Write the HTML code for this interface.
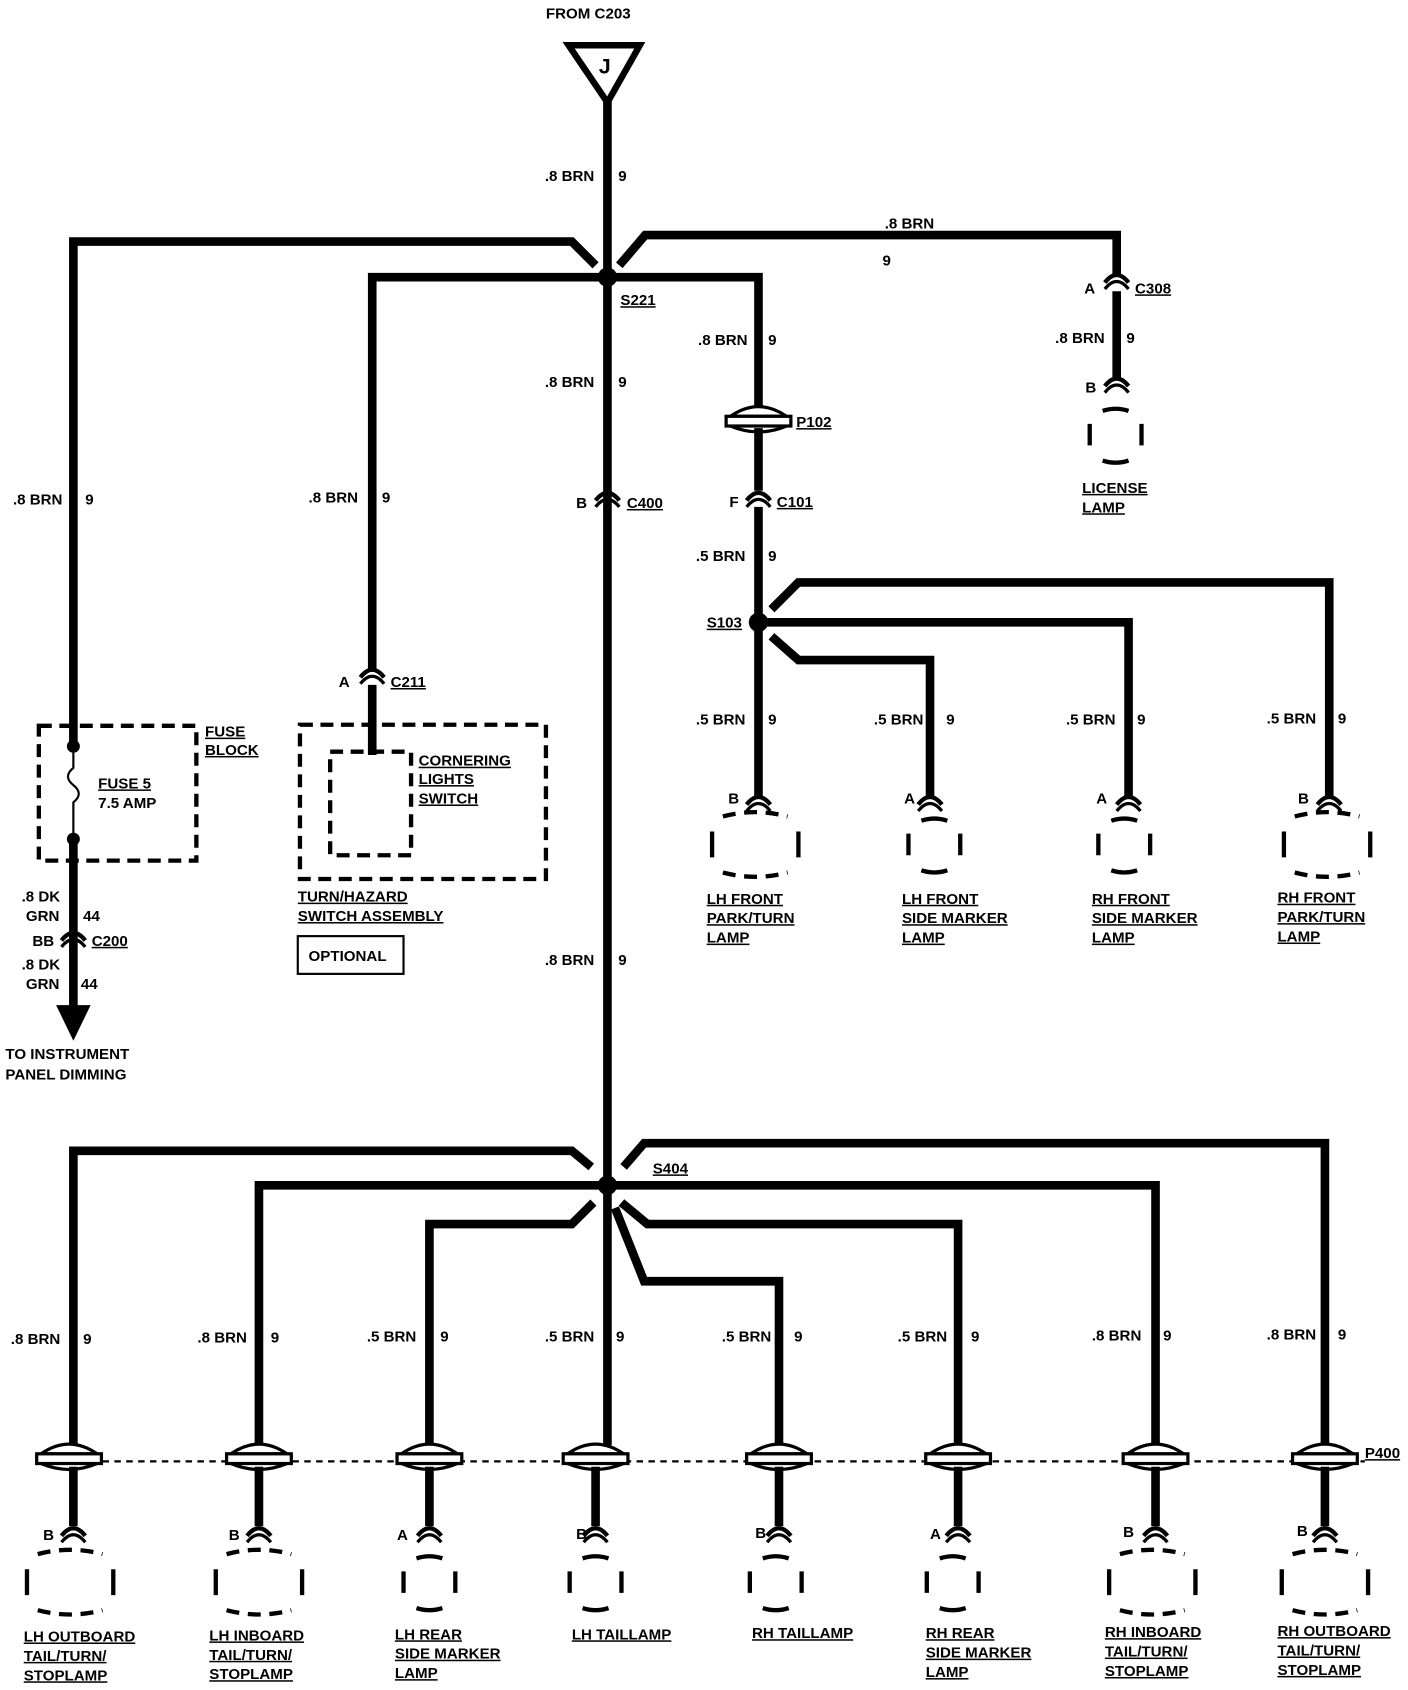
<!DOCTYPE html>
<html><head><meta charset="utf-8"><style>
html,body{margin:0;padding:0;background:#fff;}
svg{display:block}
text{font-family:"Liberation Sans",sans-serif;font-weight:bold;font-size:14px;fill:#000}
.u{text-decoration:underline}
</style></head><body>
<svg width="1408" height="1690" viewBox="0 0 1305 1567" preserveAspectRatio="none" xmlns="http://www.w3.org/2000/svg">
<defs>
<g id="cup"><path d="M-11,6 Q0,-8 11,6" fill="none" stroke="#000" stroke-width="4"/><path d="M-11,12 Q0,-2 11,12" fill="none" stroke="#000" stroke-width="3"/></g>
<g id="pc"><path d="M-26,-4 Q0,-22 26,-4 Z" fill="#fff" stroke="#000" stroke-width="3"/><rect x="-30" y="-4" width="60" height="9" fill="#fff" stroke="#000" stroke-width="3"/><path d="M-26,5 Q0,16 26,5" fill="none" stroke="#000" stroke-width="3"/></g>
<g id="lampW"><path d="M-30,-26 Q0,-34 30,-26" fill="none" stroke="#000" stroke-width="4" stroke-dasharray="12,8"/><path d="M-40,-12 L-40,12 M40,-12 L40,12" stroke="#000" stroke-width="4"/><path d="M-30,26 Q0,34 30,26" fill="none" stroke="#000" stroke-width="4" stroke-dasharray="12,8"/></g>
<g id="lampN"><path d="M-12,-22 Q0,-26 12,-22" fill="none" stroke="#000" stroke-width="4"/><path d="M-24,-10 L-24,10 M24,-10 L24,10" stroke="#000" stroke-width="4"/><path d="M-12,24 Q0,28 12,24" fill="none" stroke="#000" stroke-width="4"/></g>
</defs>
<g fill="none" stroke="#000" stroke-width="8" stroke-linejoin="miter">
<path d="M563,80 L563,1099"/>
<path d="M68,675 L68,224 L530,224 L552,246"/>
<path d="M574,246 L598,218 L1035,218 L1035,255"/>
<path d="M1035,270 L1035,350"/>
<path d="M345,620 L345,257 L563,257"/>
<path d="M563,257 L703,257 L703,377"/>
<path d="M703,397 L703,455"/>
<path d="M703,470 L703,577 L703,738"/>
<path d="M715,565 L740,540 L1232,540 L1232,738"/>
<path d="M703,577 L1046,577 L1046,738"/>
<path d="M715,590 L740,612 L862,612 L862,738"/>
<path d="M345,635 L345,700"/>
<path d="M548,1082 L530,1067 L68,1067 L68,1340"/>
<path d="M578,1082 L597,1060 L1228,1060 L1228,1340"/>
<path d="M563,1099 L240,1099 L240,1340"/>
<path d="M563,1099 L1071,1099 L1071,1340"/>
<path d="M550,1115 L530,1135 L398,1135 L398,1340"/>
<path d="M576,1115 L600,1135 L888,1135 L888,1340"/>
<path d="M570,1120 L597,1188 L722,1188 L722,1340"/>
<path d="M563,1099 L563,1340"/>
<path d="M68,1360 L68,1415 M240,1360 L240,1415 M398,1360 L398,1415 M552,1360 L552,1415 M722,1360 L722,1415 M888,1360 L888,1415 M1071,1360 L1071,1415 M1228,1360 L1228,1415"/>
<path d="M68,798 L68,940"/>
</g>
<path d="M527,42 L593,42 L563,95 Z" fill="#fff" stroke="#000" stroke-width="6"/>
<text x="555" y="68" style="font-size:20px">J</text>
<text x="506" y="17">FROM C203</text>
<circle cx="563" cy="257" r="9"/><circle cx="703" cy="577" r="9"/><circle cx="563" cy="1099" r="9"/>
<path d="M52,932 L84,932 L68,965 Z"/>
<use href="#cup" x="563" y="458"/><use href="#cup" x="703" y="458"/><use href="#cup" x="1035" y="256"/><use href="#cup" x="1035" y="352"/><use href="#cup" x="345" y="622"/><use href="#cup" x="68" y="866"/>
<use href="#pc" x="703" y="390"/>
<line x1="40" y1="1355" x2="1265" y2="1355" stroke="#000" stroke-width="2" stroke-dasharray="6,5"/>
<use href="#pc" x="64" y="1352"/><use href="#pc" x="240" y="1352"/><use href="#pc" x="398" y="1352"/><use href="#pc" x="552" y="1352"/><use href="#pc" x="722" y="1352"/><use href="#pc" x="888" y="1352"/><use href="#pc" x="1071" y="1352"/><use href="#pc" x="1228" y="1352"/>
<text x="1265" y="1352" class="u">P400</text>
<use href="#cup" x="703" y="740"/><use href="#cup" x="862" y="740"/><use href="#cup" x="1046" y="740"/><use href="#cup" x="1232" y="740"/>
<use href="#cup" x="68" y="1418"/><use href="#cup" x="240" y="1418"/><use href="#cup" x="398" y="1418"/><use href="#cup" x="552" y="1418"/><use href="#cup" x="722" y="1418"/><use href="#cup" x="888" y="1418"/><use href="#cup" x="1071" y="1418"/><use href="#cup" x="1228" y="1418"/>
<use href="#lampN" x="1034" y="403"/>
<use href="#lampW" x="700" y="783"/><use href="#lampN" x="866" y="783"/><use href="#lampN" x="1042" y="783"/><use href="#lampW" x="1230" y="783"/>
<use href="#lampW" x="65" y="1467"/><use href="#lampW" x="240" y="1467"/><use href="#lampN" x="398" y="1467"/><use href="#lampN" x="552" y="1467"/><use href="#lampN" x="719" y="1467"/><use href="#lampN" x="883" y="1467"/><use href="#lampW" x="1068" y="1467"/><use href="#lampW" x="1228" y="1467"/>
<rect x="36" y="673" width="146" height="125" fill="none" stroke="#000" stroke-width="4" stroke-dasharray="12,7"/>
<path d="M68,675 L68,690 M68,778 L68,800" stroke="#000" stroke-width="8"/>
<path d="M68,690 L68,712 Q58,720 68,728 Q78,736 68,744 L68,778" fill="none" stroke="#000" stroke-width="2"/>
<circle cx="68" cy="692" r="6"/><circle cx="68" cy="778" r="6"/>
<text x="190" y="683" class="u">FUSE</text><text x="190" y="700" class="u">BLOCK</text>
<text x="91" y="731" class="u">FUSE 5</text><text x="91" y="749">7.5 AMP</text>
<rect x="278" y="672" width="228" height="143" fill="none" stroke="#000" stroke-width="4" stroke-dasharray="12,7"/>
<rect x="306" y="697" width="75" height="96" fill="none" stroke="#000" stroke-width="4" stroke-dasharray="12,7"/>
<text x="388" y="710" class="u">CORNERING</text><text x="388" y="727" class="u">LIGHTS</text><text x="388" y="745" class="u">SWITCH</text>
<text x="276" y="836" class="u">TURN/HAZARD</text><text x="276" y="854" class="u">SWITCH ASSEMBLY</text>
<rect x="276" y="868" width="98" height="35" fill="none" stroke="#000" stroke-width="2"/>
<text x="286" y="891">OPTIONAL</text>
<g>
<text x="505" y="168">.8 BRN</text><text x="573" y="168">9</text>
<text x="820" y="212">.8 BRN</text><text x="818" y="246">9</text>
<text x="575" y="283" class="u">S221</text>
<text x="1005" y="272">A</text><text x="1052" y="272" class="u">C308</text>
<text x="978" y="318">.8 BRN</text><text x="1044" y="318">9</text>
<text x="1006" y="364">B</text>
<text x="1003" y="457" class="u">LICENSE</text><text x="1003" y="475" class="u">LAMP</text>
<text x="647" y="320">.8 BRN</text><text x="712" y="320">9</text>
<text x="738" y="396" class="u">P102</text>
<text x="676" y="470">F</text><text x="720" y="470" class="u">C101</text>
<text x="505" y="359">.8 BRN</text><text x="573" y="359">9</text>
<text x="534" y="471">B</text><text x="581" y="471" class="u">C400</text>
<text x="645" y="520">.5 BRN</text><text x="712" y="520">9</text>
<text x="655" y="582" class="u">S103</text>
<text x="12" y="468">.8 BRN</text><text x="79" y="468">9</text>
<text x="286" y="466">.8 BRN</text><text x="354" y="466">9</text>
<text x="314" y="637">A</text><text x="362" y="637" class="u">C211</text>
<text x="645" y="672">.5 BRN</text><text x="712" y="672">9</text>
<text x="810" y="672">.5 BRN</text><text x="877" y="672">9</text>
<text x="988" y="672">.5 BRN</text><text x="1054" y="672">9</text>
<text x="1174" y="671">.5 BRN</text><text x="1240" y="671">9</text>
<text x="675" y="745">B</text><text x="838" y="745">A</text><text x="1016" y="745">A</text><text x="1203" y="745">B</text>
<text x="655" y="838" class="u">LH FRONT</text><text x="655" y="856" class="u">PARK/TURN</text><text x="655" y="874" class="u">LAMP</text>
<text x="836" y="838" class="u">LH FRONT</text><text x="836" y="856" class="u">SIDE MARKER</text><text x="836" y="874" class="u">LAMP</text>
<text x="1012" y="838" class="u">RH FRONT</text><text x="1012" y="856" class="u">SIDE MARKER</text><text x="1012" y="874" class="u">LAMP</text>
<text x="1184" y="837" class="u">RH FRONT</text><text x="1184" y="855" class="u">PARK/TURN</text><text x="1184" y="873" class="u">LAMP</text>
<text x="20" y="836">.8 DK</text><text x="24" y="854">GRN</text><text x="77" y="854">44</text>
<text x="30" y="877">BB</text><text x="85" y="877" class="u">C200</text>
<text x="20" y="899">.8 DK</text><text x="24" y="917">GRN</text><text x="75" y="917">44</text>
<text x="5" y="982">TO INSTRUMENT</text><text x="5" y="1001">PANEL DIMMING</text>
<text x="505" y="895">.8 BRN</text><text x="573" y="895">9</text>
<text x="605" y="1088" class="u">S404</text>
<text x="10" y="1246">.8 BRN</text><text x="77" y="1246">9</text>
<text x="183" y="1245">.8 BRN</text><text x="251" y="1245">9</text>
<text x="340" y="1244">.5 BRN</text><text x="408" y="1244">9</text>
<text x="505" y="1244">.5 BRN</text><text x="571" y="1244">9</text>
<text x="669" y="1244">.5 BRN</text><text x="736" y="1244">9</text>
<text x="832" y="1244">.5 BRN</text><text x="900" y="1244">9</text>
<text x="1012" y="1243">.8 BRN</text><text x="1078" y="1243">9</text>
<text x="1174" y="1242">.8 BRN</text><text x="1240" y="1242">9</text>
<text x="40" y="1428">B</text><text x="212" y="1428">B</text><text x="368" y="1428">A</text><text x="534" y="1427">B</text><text x="700" y="1426">B</text><text x="862" y="1427">A</text><text x="1041" y="1425">B</text><text x="1202" y="1424">B</text>
<text x="22" y="1522" class="u">LH  OUTBOARD</text><text x="22" y="1540" class="u">TAIL/TURN/</text><text x="22" y="1558" class="u">STOPLAMP</text>
<text x="194" y="1521" class="u">LH INBOARD</text><text x="194" y="1539" class="u">TAIL/TURN/</text><text x="194" y="1557" class="u">STOPLAMP</text>
<text x="366" y="1520" class="u">LH REAR</text><text x="366" y="1538" class="u">SIDE MARKER</text><text x="366" y="1556" class="u">LAMP</text>
<text x="530" y="1520" class="u">LH TAILLAMP</text>
<text x="697" y="1519" class="u">RH TAILLAMP</text>
<text x="858" y="1519" class="u">RH REAR</text><text x="858" y="1537" class="u">SIDE MARKER</text><text x="858" y="1555" class="u">LAMP</text>
<text x="1024" y="1518" class="u">RH INBOARD</text><text x="1024" y="1536" class="u">TAIL/TURN/</text><text x="1024" y="1554" class="u">STOPLAMP</text>
<text x="1184" y="1517" class="u">RH OUTBOARD</text><text x="1184" y="1535" class="u">TAIL/TURN/</text><text x="1184" y="1553" class="u">STOPLAMP</text>
</g>
</svg>
</body></html>
